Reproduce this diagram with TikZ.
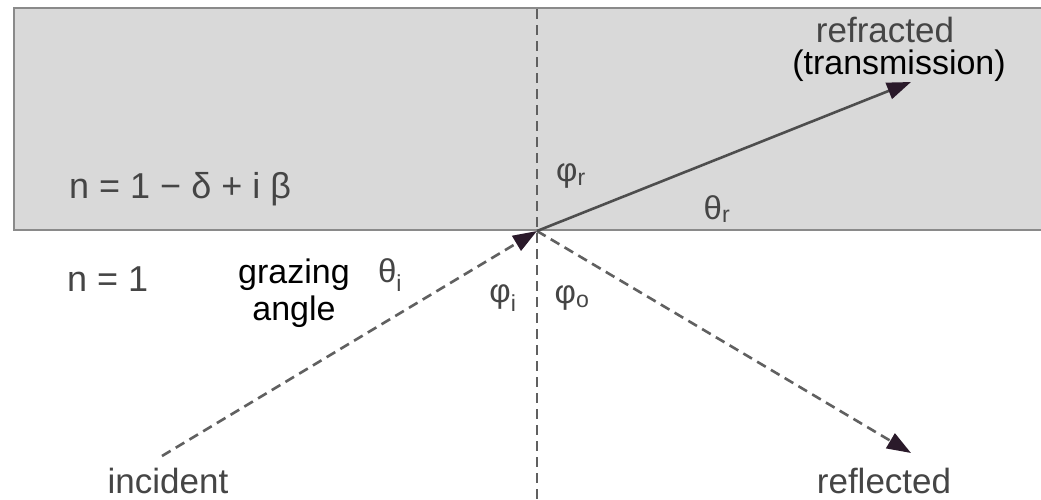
\documentclass[tikz,border=0pt]{standalone}
\usepackage{fontspec}
\setmainfont{Liberation Sans}
\usetikzlibrary{arrows.meta}
\definecolor{medium}{HTML}{D9D9D9}
\definecolor{edge}{HTML}{8A8A8A}
\definecolor{ray}{HTML}{606060}
\definecolor{tip}{HTML}{2A1A2A}
\definecolor{gtext}{HTML}{454545}
\tikzset{
  raydash/.style={draw=ray, line width=2.6pt, dash pattern=on 10pt off 6pt},
  raysolid/.style={draw=ray!80!black, line width=2.6pt},
  head/.style={-{Triangle[length=24pt,width=17pt,fill=tip,color=tip]}},
  lab/.style={font=\fontsize{36}{38}\selectfont, text=gtext, inner sep=0pt},
  blab/.style={font=\fontsize{34}{37}\selectfont, text=black, inner sep=0pt, align=center},
  glab/.style={font=\fontsize{33}{35}\selectfont, text=gtext, inner sep=0pt},
}
\begin{document}
\begin{tikzpicture}[x=1pt,y=-1pt]
\useasboundingbox (0,0) rectangle (1041,499);
\fill[white] (0,0) rectangle (1041,499);
% medium
\draw[edge, fill=medium, line width=2.5pt] (1060,8) -- (14,8) -- (14,230) -- (1060,230);
% points
\coordinate (O) at (537,231);
\coordinate (top) at (537,9);
\coordinate (bot) at (537,499);
\coordinate (inc) at (162,456);
\coordinate (refl) at (911,453);
\coordinate (refr) at (911,82);
% normal
\draw[raydash, line width=2.2pt, dash pattern=on 10pt off 6pt] (top) -- (bot);
% rays
\draw[raydash, head] (inc) -- (O);
\draw[raydash, head] (O) -- (refl);
\draw[raysolid, head] (O) -- (refr);
% labels
\node[lab, anchor=west] (nmed) at (69,189) {n = 1 − δ + i β};
\node[lab, anchor=west] (nvac) at (67,279) {n = 1};
\node[blab] (graz) at (294,293) {grazing\\angle};
\node[lab, font=\fontsize{35}{37}\selectfont] (incl) at (168,481) {incident};
\node[lab, font=\fontsize{35}{37}\selectfont] (refll) at (884,481) {reflected};
\node[lab, font=\fontsize{35}{37}\selectfont] (refrl) at (885,30) {refracted};
\node[blab] (trans) at (899,66) {(transmission)};
\node[glab] (phr) at (571,176) {φ\textsubscript{r}};
\node[glab] (thr) at (717,209) {θ\textsubscript{r}};
\node[glab] (thi) at (390,275) {θ\textsubscript{i}};
\node[glab] (phi) at (503,298) {φ\textsubscript{i}};
\node[glab] (pho) at (572,298) {φ\textsubscript{o}};
\end{tikzpicture}
\end{document}
